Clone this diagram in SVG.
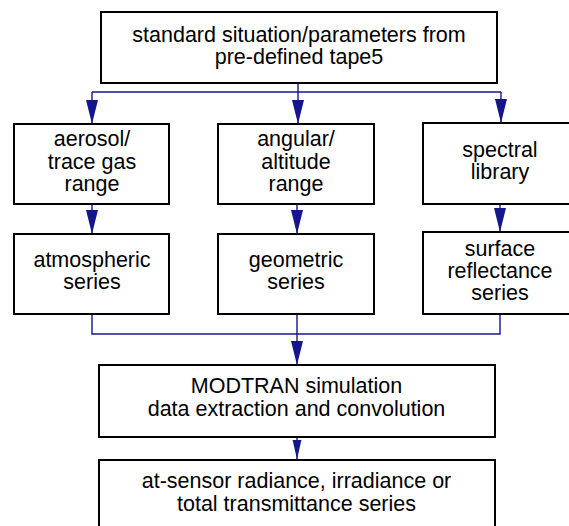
<svg xmlns="http://www.w3.org/2000/svg" width="569" height="526" viewBox="0 0 569 526">
<style>
.box{fill:#fff;stroke:#000;stroke-width:2}
.t{font-family:"Liberation Sans",Arial,sans-serif;font-size:21.5px;fill:#000;text-anchor:middle}
.c{fill:none;stroke:#16168c;stroke-width:1.4}
</style>
<defs>
<marker id="ah" markerUnits="userSpaceOnUse" markerWidth="24" markerHeight="12" viewBox="0 -6 24 12" refX="24" refY="0" orient="auto">
<path d="M0,-6 L24,0 L0,6 z" fill="#16168c"/>
</marker>
<marker id="ahs" markerUnits="userSpaceOnUse" markerWidth="20" markerHeight="10" viewBox="0 -5 20 10" refX="20" refY="0" orient="auto">
<path d="M0,-4.5 L20,0 L0,4.5 z" fill="#16168c"/>
</marker>
</defs>
<rect width="569" height="526" fill="#fff"/>
<g id="connectors">
<path class="c" d="M92,92 H501"/>
<path class="c" d="M298,83 V124" marker-end="url(#ah)"/>
<path class="c" d="M92,92 V124" marker-end="url(#ah)"/>
<path class="c" d="M501,92 V123" marker-end="url(#ah)"/>
<path class="c" d="M92,204 V234" marker-end="url(#ah)"/>
<path class="c" d="M297,204 V234" marker-end="url(#ah)"/>
<path class="c" d="M500,204 V232" marker-end="url(#ah)"/>
<path class="c" d="M92,314 V334 H500 V314"/>
<path class="c" d="M297,314 V365" marker-end="url(#ah)"/>
<path class="c" d="M297,437 V459.5" marker-end="url(#ahs)"/>
</g>
<g id="n-top">
<rect class="box" x="101" y="12" width="396" height="71"/>
<text class="t" x="299" y="41.7">standard situation/parameters from</text>
<text class="t" x="299" y="63.7">pre-defined tape5</text>
</g>
<g id="n-aerosol">
<rect class="box" x="14" y="124" width="155" height="80"/>
<text class="t" x="92" y="145.7">aerosol/</text>
<text class="t" x="92" y="168.5">trace gas</text>
<text class="t" x="92" y="190.5">range</text>
</g>
<g id="n-angular">
<rect class="box" x="218" y="124" width="156" height="80"/>
<text class="t" x="296" y="145.7">angular/</text>
<text class="t" x="296" y="168.5">altitude</text>
<text class="t" x="296" y="190.5">range</text>
</g>
<g id="n-spectral">
<rect class="box" x="423" y="123" width="155" height="81"/>
<text class="t" x="500" y="156.7">spectral</text>
<text class="t" x="500" y="179">library</text>
</g>
<g id="n-atmospheric">
<rect class="box" x="14" y="234" width="155" height="80"/>
<text class="t" x="92" y="266.7">atmospheric</text>
<text class="t" x="92" y="289.3">series</text>
</g>
<g id="n-geometric">
<rect class="box" x="218" y="234" width="156" height="80"/>
<text class="t" x="296" y="266.7">geometric</text>
<text class="t" x="296" y="289.3">series</text>
</g>
<g id="n-surface">
<rect class="box" x="423" y="232" width="155" height="82"/>
<text class="t" x="500" y="255.7">surface</text>
<text class="t" x="500" y="277.7">reflectance</text>
<text class="t" x="500" y="299.5">series</text>
</g>
<g id="n-modtran">
<rect class="box" x="99" y="365" width="396" height="72"/>
<text class="t" x="296.5" y="393.3">MODTRAN simulation</text>
<text class="t" x="296.5" y="416">data extraction and convolution</text>
</g>
<g id="n-output">
<rect class="box" x="99" y="460" width="396" height="80"/>
<text class="t" x="296.5" y="487.7">at-sensor radiance, irradiance or</text>
<text class="t" x="296.5" y="511">total transmittance series</text>
</g>
</svg>
